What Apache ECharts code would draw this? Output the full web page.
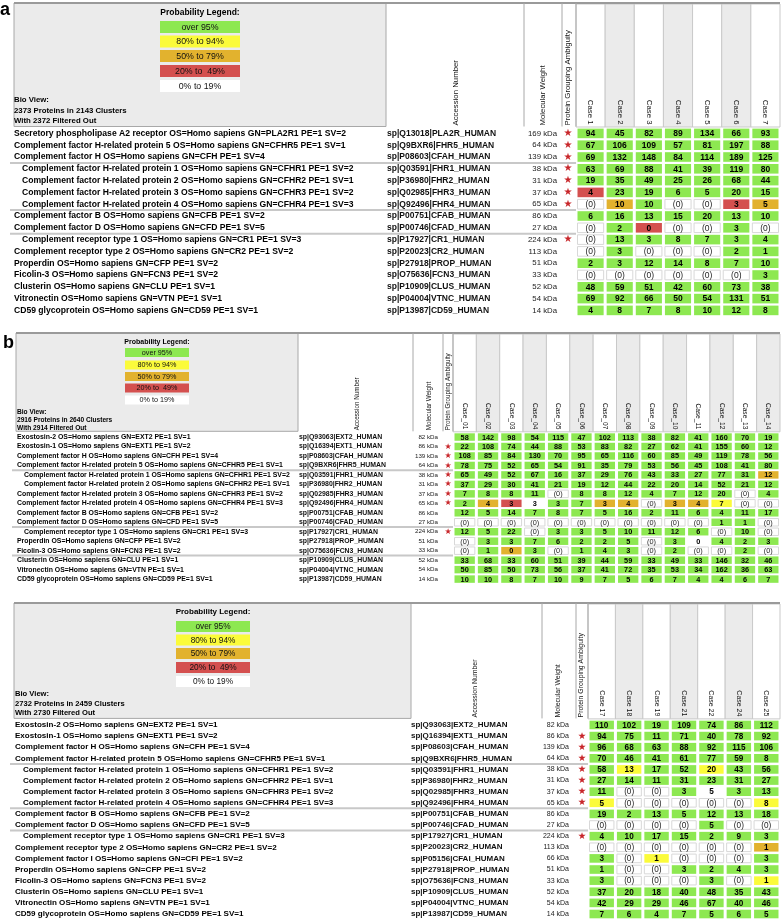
<!DOCTYPE html>
<html>
<head>
<meta charset="utf-8">
<script src="https://cdn.jsdelivr.net/npm/echarts@6.0.0/dist/echarts.min.js"></script>
<style>
html,body{margin:0;padding:0;background:#ffffff;}
#chart{width:782px;height:919px;}
</style>
</head>
<body>
<div id="chart"></div>
<script>
// ================= DATA =================
const legendLabels = ['over 95%', '80% to 94%', '50% to 79%', '20% to  49%', '0% to 19%'];
const legendClasses = ['G', 'Y', 'O', 'R', 'W'];

// ---- panel a ----
const casesA = ['Case 1', 'Case 2', 'Case 3', 'Case 4', 'Case 5', 'Case 6', 'Case 7'];
const proteinsA = [
  'Secretory phospholipase A2 receptor OS=Homo sapiens GN=PLA2R1 PE=1 SV=2',
  'Complement factor H-related protein 5 OS=Homo sapiens GN=CFHR5 PE=1 SV=1',
  'Complement factor H OS=Homo sapiens GN=CFH PE=1 SV=4',
  'Complement factor H-related protein 1 OS=Homo sapiens GN=CFHR1 PE=1 SV=2',
  'Complement factor H-related protein 2 OS=Homo sapiens GN=CFHR2 PE=1 SV=1',
  'Complement factor H-related protein 3 OS=Homo sapiens GN=CFHR3 PE=1 SV=2',
  'Complement factor H-related protein 4 OS=Homo sapiens GN=CFHR4 PE=1 SV=3',
  'Complement factor B OS=Homo sapiens GN=CFB PE=1 SV=2',
  'Complement factor D OS=Homo sapiens GN=CFD PE=1 SV=5',
  'Complement receptor type 1 OS=Homo sapiens GN=CR1 PE=1 SV=3',
  'Complement receptor type 2 OS=Homo sapiens GN=CR2 PE=1 SV=2',
  'Properdin OS=Homo sapiens GN=CFP PE=1 SV=2',
  'Ficolin-3 OS=Homo sapiens GN=FCN3 PE=1 SV=2',
  'Clusterin OS=Homo sapiens GN=CLU PE=1 SV=1',
  'Vitronectin OS=Homo sapiens GN=VTN PE=1 SV=1',
  'CD59 glycoprotein OS=Homo sapiens GN=CD59 PE=1 SV=1'
];
const accessionA = ['sp|Q13018|PLA2R_HUMAN', 'sp|Q9BXR6|FHR5_HUMAN', 'sp|P08603|CFAH_HUMAN', 'sp|Q03591|FHR1_HUMAN',
  'sp|P36980|FHR2_HUMAN', 'sp|Q02985|FHR3_HUMAN', 'sp|Q92496|FHR4_HUMAN', 'sp|P00751|CFAB_HUMAN', 'sp|P00746|CFAD_HUMAN',
  'sp|P17927|CR1_HUMAN', 'sp|P20023|CR2_HUMAN', 'sp|P27918|PROP_HUMAN', 'sp|O75636|FCN3_HUMAN', 'sp|P10909|CLUS_HUMAN',
  'sp|P04004|VTNC_HUMAN', 'sp|P13987|CD59_HUMAN'];
const mwA = ['169 kDa', '64 kDa', '139 kDa', '38 kDa', '31 kDa', '37 kDa', '65 kDa', '86 kDa', '27 kDa', '224 kDa', '113 kDa', '51 kDa', '33 kDa', '52 kDa', '54 kDa', '14 kDa'];
const ambiguityA = [1, 1, 1, 1, 1, 1, 1, 0, 0, 1, 0, 0, 0, 0, 0, 0];
const indentA = [0, 0, 0, 1, 1, 1, 1, 0, 0, 1, 0, 0, 0, 0, 0, 0];
const groupBreaksA = [3, 7, 9];
const countsA = [
  [94, 45, 82, 89, 134, 66, 93],
  [67, 106, 109, 57, 81, 197, 88],
  [69, 132, 148, 84, 114, 189, 125],
  [63, 69, 88, 41, 39, 119, 80],
  [19, 35, 49, 25, 26, 68, 44],
  [4, 23, 19, 6, 5, 20, 15],
  [0, 10, 10, 0, 0, 3, 5],
  [6, 16, 13, 15, 20, 13, 10],
  [0, 2, 0, 0, 0, 3, 0],
  [0, 13, 3, 8, 7, 3, 4],
  [0, 3, 0, 0, 0, 2, 1],
  [2, 3, 12, 14, 8, 7, 10],
  [0, 0, 0, 0, 0, 0, 3],
  [48, 59, 51, 42, 60, 73, 38],
  [69, 92, 66, 50, 54, 131, 51],
  [4, 8, 7, 8, 10, 12, 8]
];
// G >95%, Y 80-94%, O 50-79%, R 20-49%, W 0-19%, N 0-19% shown in brackets
const probA = ['GGGGGGG', 'GGGGGGG', 'GGGGGGG', 'GGGGGGG', 'GGGGGGG', 'RGGGGGG', 'NOGNNRO', 'GGGGGGG',
  'NGRNNGN', 'NGGGGGG', 'NGNNNGG', 'GGGGGGG', 'NNNNNNG', 'GGGGGGG', 'GGGGGGG', 'GGGGGGG'];
const bioViewA = ['Bio View:', '2373 Proteins in 2143 Clusters', 'With 2372 Filtered Out'];

// ---- panel b ----
const casesB = ['Case_01', 'Case_02', 'Case_03', 'Case_04', 'Case_05', 'Case_06', 'Case_07', 'Case_08', 'Case_09', 'Case_10', 'Case_11', 'Case_12', 'Case_13', 'Case_14'];
const proteinsB = [
  'Exostosin-2 OS=Homo sapiens GN=EXT2 PE=1 SV=1',
  'Exostosin-1 OS=Homo sapiens GN=EXT1 PE=1 SV=2',
  'Complement factor H OS=Homo sapiens GN=CFH PE=1 SV=4',
  'Complement factor H-related protein 5 OS=Homo sapiens GN=CFHR5 PE=1 SV=1',
  'Complement factor H-related protein 1 OS=Homo sapiens GN=CFHR1 PE=1 SV=2',
  'Complement factor H-related protein 2 OS=Homo sapiens GN=CFHR2 PE=1 SV=1',
  'Complement factor H-related protein 3 OS=Homo sapiens GN=CFHR3 PE=1 SV=2',
  'Complement factor H-related protein 4 OS=Homo sapiens GN=CFHR4 PE=1 SV=3',
  'Complement factor B OS=Homo sapiens GN=CFB PE=1 SV=2',
  'Complement factor D OS=Homo sapiens GN=CFD PE=1 SV=5',
  'Complement receptor type 1 OS=Homo sapiens GN=CR1 PE=1 SV=3',
  'Properdin OS=Homo sapiens GN=CFP PE=1 SV=2',
  'Ficolin-3 OS=Homo sapiens GN=FCN3 PE=1 SV=2',
  'Clusterin OS=Homo sapiens GN=CLU PE=1 SV=1',
  'Vitronectin OS=Homo sapiens GN=VTN PE=1 SV=1',
  'CD59 glycoprotein OS=Homo sapiens GN=CD59 PE=1 SV=1'
];
const accessionB = ['sp|Q93063|EXT2_HUMAN', 'sp|Q16394|EXT1_HUMAN', 'sp|P08603|CFAH_HUMAN', 'sp|Q9BXR6|FHR5_HUMAN',
  'sp|Q03591|FHR1_HUMAN', 'sp|P36980|FHR2_HUMAN', 'sp|Q02985|FHR3_HUMAN', 'sp|Q92496|FHR4_HUMAN', 'sp|P00751|CFAB_HUMAN',
  'sp|P00746|CFAD_HUMAN', 'sp|P17927|CR1_HUMAN', 'sp|P27918|PROP_HUMAN', 'sp|O75636|FCN3_HUMAN', 'sp|P10909|CLUS_HUMAN',
  'sp|P04004|VTNC_HUMAN', 'sp|P13987|CD59_HUMAN'];
const mwB = ['82 kDa', '86 kDa', '139 kDa', '64 kDa', '38 kDa', '31 kDa', '37 kDa', '65 kDa', '86 kDa', '27 kDa', '224 kDa', '51 kDa', '33 kDa', '52 kDa', '54 kDa', '14 kDa'];
const ambiguityB = [0, 1, 1, 1, 1, 1, 1, 1, 0, 0, 1, 0, 0, 0, 0, 0];
const indentB = [0, 0, 0, 0, 1, 1, 0, 0, 0, 0, 1, 0, 0, 0, 0, 0];
const groupBreaksB = [4, 10, 13];
const countsB = [
  [58, 142, 98, 54, 115, 47, 102, 113, 38, 82, 41, 160, 70, 19],
  [22, 108, 74, 44, 88, 53, 83, 82, 27, 62, 41, 155, 60, 12],
  [108, 85, 84, 130, 70, 95, 65, 116, 60, 85, 49, 119, 78, 56],
  [78, 75, 52, 65, 54, 91, 35, 79, 53, 56, 45, 108, 41, 80],
  [65, 49, 52, 67, 16, 37, 29, 76, 43, 33, 27, 77, 31, 12],
  [37, 29, 30, 41, 21, 19, 12, 44, 22, 20, 14, 52, 21, 12],
  [7, 8, 8, 11, 0, 8, 8, 12, 4, 7, 12, 20, 0, 4],
  [2, 4, 3, 3, 3, 7, 3, 4, 0, 3, 4, 7, 0, 0],
  [12, 5, 14, 7, 8, 7, 5, 16, 2, 11, 6, 4, 11, 17],
  [0, 0, 0, 0, 0, 0, 0, 0, 0, 0, 0, 1, 1, 0],
  [12, 5, 22, 0, 3, 3, 5, 10, 11, 12, 6, 0, 10, 0],
  [0, 3, 3, 7, 6, 2, 2, 5, 0, 3, 0, 4, 2, 3],
  [0, 1, 0, 3, 0, 1, 4, 3, 0, 2, 0, 0, 2, 0],
  [33, 68, 33, 60, 51, 39, 44, 59, 33, 49, 33, 146, 32, 46],
  [50, 85, 50, 73, 56, 37, 41, 72, 35, 53, 34, 162, 36, 63],
  [10, 10, 8, 7, 10, 9, 7, 5, 6, 7, 4, 4, 6, 7]
];
const probB = ['GGGGGGGGGGGGGG', 'GGGGGGGGGGGGGG', 'GGGGGGGGGGGGGG', 'GGGGGGGGGGGGGG', 'GGGGGGGGGGGGGO',
  'GGGGGGGGGGGGGG', 'GGGGNGGGGGGGNG', 'GORWGGOONOOYNN', 'GGGGGGGGGGGGGG', 'NNNNNNNNNNNGGN',
  'GGGNGGGGGGGNGN', 'NGGGGGGGNGWGGG', 'NGOGNGGGNGNNGN', 'GGGGGGGGGGGGGG', 'GGGGGGGGGGGGGG', 'GGGGGGGGGGGGGG'];
const bioViewB = ['Bio View:', '2916 Proteins in 2640 Clusters', 'With 2914 Filtered Out'];

// ---- panel b (continued) ----
const casesC = ['Case 17', 'Case 18', 'Case 19', 'Case 21', 'Case 22', 'Case 24', 'Case 25'];
const proteinsC = [
  'Exostosin-2 OS=Homo sapiens GN=EXT2 PE=1 SV=1',
  'Exostosin-1 OS=Homo sapiens GN=EXT1 PE=1 SV=2',
  'Complement factor H OS=Homo sapiens GN=CFH PE=1 SV=4',
  'Complement factor H-related protein 5 OS=Homo sapiens GN=CFHR5 PE=1 SV=1',
  'Complement factor H-related protein 1 OS=Homo sapiens GN=CFHR1 PE=1 SV=2',
  'Complement factor H-related protein 2 OS=Homo sapiens GN=CFHR2 PE=1 SV=1',
  'Complement factor H-related protein 3 OS=Homo sapiens GN=CFHR3 PE=1 SV=2',
  'Complement factor H-related protein 4 OS=Homo sapiens GN=CFHR4 PE=1 SV=3',
  'Complement factor B OS=Homo sapiens GN=CFB PE=1 SV=2',
  'Complement factor D OS=Homo sapiens GN=CFD PE=1 SV=5',
  'Complement receptor type 1 OS=Homo sapiens GN=CR1 PE=1 SV=3',
  'Complement receptor type 2 OS=Homo sapiens GN=CR2 PE=1 SV=2',
  'Complement factor I OS=Homo sapiens GN=CFI PE=1 SV=2',
  'Properdin OS=Homo sapiens GN=CFP PE=1 SV=2',
  'Ficolin-3 OS=Homo sapiens GN=FCN3 PE=1 SV=2',
  'Clusterin OS=Homo sapiens GN=CLU PE=1 SV=1',
  'Vitronectin OS=Homo sapiens GN=VTN PE=1 SV=1',
  'CD59 glycoprotein OS=Homo sapiens GN=CD59 PE=1 SV=1'
];
const accessionC = ['sp|Q93063|EXT2_HUMAN', 'sp|Q16394|EXT1_HUMAN', 'sp|P08603|CFAH_HUMAN', 'sp|Q9BXR6|FHR5_HUMAN',
  'sp|Q03591|FHR1_HUMAN', 'sp|P36980|FHR2_HUMAN', 'sp|Q02985|FHR3_HUMAN', 'sp|Q92496|FHR4_HUMAN', 'sp|P00751|CFAB_HUMAN',
  'sp|P00746|CFAD_HUMAN', 'sp|P17927|CR1_HUMAN', 'sp|P20023|CR2_HUMAN', 'sp|P05156|CFAI_HUMAN', 'sp|P27918|PROP_HUMAN',
  'sp|O75636|FCN3_HUMAN', 'sp|P10909|CLUS_HUMAN', 'sp|P04004|VTNC_HUMAN', 'sp|P13987|CD59_HUMAN'];
const mwC = ['82 kDa', '86 kDa', '139 kDa', '64 kDa', '38 kDa', '31 kDa', '37 kDa', '65 kDa', '86 kDa', '27 kDa', '224 kDa', '113 kDa', '66 kDa', '51 kDa', '33 kDa', '52 kDa', '54 kDa', '14 kDa'];
const ambiguityC = [0, 1, 1, 1, 1, 1, 1, 1, 0, 0, 1, 0, 0, 0, 0, 0, 0, 0];
const indentC = [0, 0, 0, 0, 1, 1, 1, 1, 0, 0, 1, 0, 0, 0, 0, 0, 0, 0];
const groupBreaksC = [4, 8, 10];
const countsC = [
  [110, 102, 19, 109, 74, 86, 112],
  [94, 75, 11, 71, 40, 78, 92],
  [96, 68, 63, 88, 92, 115, 106],
  [70, 46, 41, 61, 77, 59, 8],
  [58, 13, 17, 52, 20, 43, 56],
  [27, 14, 11, 31, 23, 31, 27],
  [11, 0, 0, 3, 5, 3, 13],
  [5, 0, 0, 0, 0, 0, 8],
  [19, 2, 13, 5, 12, 13, 18],
  [0, 0, 0, 0, 5, 0, 0],
  [4, 10, 17, 15, 2, 9, 3],
  [0, 0, 0, 0, 0, 0, 1],
  [3, 0, 1, 0, 0, 0, 3],
  [1, 0, 0, 3, 2, 4, 3],
  [3, 0, 0, 0, 3, 0, 1],
  [37, 20, 18, 40, 48, 35, 43],
  [42, 29, 29, 46, 67, 40, 46],
  [7, 6, 4, 7, 5, 6, 5]
];
const probC = ['GGGGGGG', 'GGGGGGG', 'GGGGGGG', 'GGGGGGG', 'GYGGYGG', 'GGGGGGG', 'GNNGWGG', 'YNNNNNY', 'GGGGGGG',
  'NNNNGNN', 'GGGGGGG', 'NNNNNNO', 'GNYNNNG', 'GNNGGGG', 'GNNNGNY', 'GGGGGGG', 'GGGGGGG', 'GGGGGGG'];
const bioViewC = ['Bio View:', '2732 Proteins in 2459 Clusters', 'With 2730 Filtered Out'];

const headerTexts = ['Accession Number', 'Molecular Weight', 'Protein Grouping Ambiguity'];

// ================= STYLE / LAYOUT =================
const FONT = '"Liberation Sans", Arial, sans-serif';
const CLS_FILL = { G: '#8de851', Y: '#fbfb3a', O: '#e2b22e', R: '#d4504f', W: '#ffffff', N: '#ffffff' };
const HEAD_GRAY = '#ebebeb';

const layoutA = {
  label: 'a', labelX: 0, labelY: 10, top: 3, gridTop: 127.5, band: 11.8, left: 14, nameX: 14, indent: 8,
  boxRight: 386, vlines: [524, 562, 576], accX: 387, mwRight: 557, starX: 568, caseLeft: 576, caseRight: 780,
  legX: 160, legW: 80, legH: 12, legTitleY: 13, legY: [21, 35.5, 50, 65, 80], bioY: [100, 111, 121],
  hdrX: [456, 543, 568],
  f: { name: 8.6, acc: 8.5, mw: 7.8, cell: 8.5, head: 7.8, hdr: 7.8, leg: 8.8, legTitle: 8.5, bio: 7.8, star: 10 },
  pad: [3, 2.2]
};
const layoutB = {
  label: 'b', labelX: 3, labelY: 343, top: 333, gridTop: 432.3, band: 9.47, left: 16, nameX: 17, indent: 7,
  boxRight: 298, vlines: [413, 443, 453], accX: 299, mwRight: 438, starX: 448, caseLeft: 453, caseRight: 780,
  legX: 125, legW: 64, legH: 9, legTitleY: 342, legY: [348, 360.5, 372, 383.5, 395.5], bioY: [412, 420, 428],
  hdrX: [357, 429, 448],
  f: { name: 6.9, acc: 6.9, mw: 6.2, cell: 7.3, head: 6.6, hdr: 6.3, leg: 7.2, legTitle: 7, bio: 6.6, star: 8 },
  pad: [3, 2]
};
const layoutC = {
  label: '', labelX: 0, labelY: 0, top: 603, gridTop: 719.4, band: 11.12, left: 14, nameX: 15, indent: 8,
  boxRight: 411, vlines: [542, 576, 588], accX: 411, mwRight: 569, starX: 582, caseLeft: 588, caseRight: 780,
  legX: 176, legW: 74, legH: 11, legTitleY: 612, legY: [621, 634.5, 648, 662, 676], bioY: [694, 704, 713],
  hdrX: [475, 558, 581],
  f: { name: 8.05, acc: 8, mw: 7, cell: 8.2, head: 7, hdr: 6.9, leg: 8.3, legTitle: 8, bio: 7.6, star: 9.5 },
  pad: [3, 2.5]
};

const panels = [
  { cases: casesA, names: proteinsA, acc: accessionA, mw: mwA, amb: ambiguityA, ind: indentA, breaks: groupBreaksA, counts: countsA, prob: probA, bio: bioViewA, L: layoutA },
  { cases: casesB, names: proteinsB, acc: accessionB, mw: mwB, amb: ambiguityB, ind: indentB, breaks: groupBreaksB, counts: countsB, prob: probB, bio: bioViewB, L: layoutB },
  { cases: casesC, names: proteinsC, acc: accessionC, mw: mwC, amb: ambiguityC, ind: indentC, breaks: groupBreaksC, counts: countsC, prob: probC, bio: bioViewC, L: layoutC }
];

// ================= BUILD =================
const grids = [], xAxes = [], yAxes = [], series = [], graphics = [];

function txt(x, y, text, size, opts) {
  opts = opts || {};
  return {
    type: 'text', x: x, y: y, rotation: opts.rotation || 0, z: 20, silent: true,
    style: {
      text: text, fill: opts.color || '#000', fontSize: size, fontWeight: opts.bold ? 'bold' : 'normal',
      fontFamily: FONT, align: opts.align || 'left', verticalAlign: 'middle'
    }
  };
}

panels.forEach(function (P, gi) {
  const L = P.L;
  const n = P.names.length;
  grids.push({ left: L.caseLeft, top: L.gridTop, width: L.caseRight - L.caseLeft, height: L.band * n, containLabel: false, outerBoundsMode: 'none' });

  xAxes.push({
    type: 'category', gridIndex: gi, data: P.cases, position: 'top', z: 10,
    axisLine: { show: false }, axisTick: { show: false }, splitLine: { show: false },
    axisLabel: { interval: 0, rotate: 90, margin: 3, fontSize: L.f.head, fontFamily: FONT, color: '#111' }
  });

  const yBase = { type: 'category', gridIndex: gi, data: P.names, inverse: true, z: 10, position: 'left', offset: 0,
    axisLine: { show: false }, axisTick: { show: false }, splitLine: { show: false } };
  const yi = yAxes.length;
  // protein names
  yAxes.push(Object.assign({}, yBase, {
    axisLabel: {
      interval: 0, align: 'left', margin: L.caseLeft - L.nameX,
      formatter: function (v, i) { return (P.ind[i] ? '{i|' : '{n|') + v + '}'; },
      rich: {
        n: { fontSize: L.f.name, fontWeight: 'bold', fontFamily: FONT, color: '#000' },
        i: { fontSize: L.f.name, fontWeight: 'bold', fontFamily: FONT, color: '#000', padding: [0, 0, 0, L.indent] }
      }
    }
  }));
  // accession
  yAxes.push(Object.assign({}, yBase, {
    axisLabel: { interval: 0, align: 'left', margin: L.caseLeft - L.accX, fontSize: L.f.acc, fontWeight: 'bold', fontFamily: FONT, color: '#111',
      formatter: function (v, i) { return P.acc[i]; } }
  }));
  // molecular weight
  yAxes.push(Object.assign({}, yBase, {
    axisLabel: { interval: 0, align: 'right', margin: L.caseLeft - L.mwRight, fontSize: L.f.mw, fontFamily: FONT, color: '#222',
      formatter: function (v, i) { return P.mw[i]; } }
  }));
  // ambiguity star
  yAxes.push(Object.assign({}, yBase, {
    axisLabel: { interval: 0, align: 'center', margin: L.caseLeft - L.starX, fontSize: L.f.star, fontFamily: '"DejaVu Sans", sans-serif', color: '#c8262a',
      formatter: function (v, i) { return P.amb[i] ? '\u2605' : ''; } }
  }));

  // header columns (alternating shading) tied to case axis
  series.push({
    type: 'custom', xAxisIndex: gi, yAxisIndex: yi, clip: false, silent: true, z: 1,
    data: P.cases.map(function (c, i) { return [i, 0]; }),
    renderItem: function (params, api) {
      const pt = api.coord([api.value(0), 0]);
      const w = api.size([1, 0])[0];
      const cs = params.coordSys;
      return {
        type: 'rect',
        shape: { x: pt[0] - w / 2, y: L.top + 1, width: w, height: cs.y - L.top - 1.5 },
        style: { fill: params.dataIndex % 2 ? HEAD_GRAY : '#ffffff', stroke: '#c9c9c9', lineWidth: 1 }
      };
    }
  });

  // group separators
  series.push({
    type: 'custom', xAxisIndex: gi, yAxisIndex: yi, clip: false, silent: true, z: 1,
    data: P.breaks.map(function (b) { return [0, b]; }),
    renderItem: function (params, api) {
      const pt = api.coord([0, api.value(1)]);
      const h = api.size([0, 1])[1];
      const y = pt[1] - h / 2;
      return { type: 'line', shape: { x1: L.left - 4, y1: y, x2: L.caseLeft, y2: y }, style: { stroke: '#c8c8c8', lineWidth: 2 } };
    }
  });

  // cells
  const cells = [];
  P.counts.forEach(function (row, r) {
    row.forEach(function (v, c) { cells.push({ x: c, y: r, v: v, cls: P.prob[r].charAt(c) }); });
  });
  series.push({
    type: 'custom', xAxisIndex: gi, yAxisIndex: yi, clip: false, silent: true, z: 5,
    data: cells.map(function (c) { return [c.x, c.y, c.v]; }),
    renderItem: function (params, api) {
      const cell = cells[params.dataIndex];
      const pt = api.coord([api.value(0), api.value(1)]);
      const sz = api.size([1, 1]);
      const w = sz[0] - L.pad[0], h = sz[1] - L.pad[1];
      const isN = cell.cls === 'N';
      const label = isN ? '(' + api.value(2) + ')' : String(api.value(2));
      return {
        type: 'group',
        children: [
          { type: 'rect', shape: { x: pt[0] - w / 2, y: pt[1] - h / 2, width: w, height: h },
            style: { fill: CLS_FILL[cell.cls], stroke: isN ? '#d8d8d8' : null, lineWidth: 1 } },
          { type: 'text', x: pt[0], y: pt[1] + 0.5,
            style: { text: label, fill: isN ? '#222' : '#000', fontSize: L.f.cell, fontWeight: isN ? 'normal' : 'bold', fontFamily: FONT, align: 'center', verticalAlign: 'middle' } }
        ]
      };
    }
  });

  // ---- header decorations ----
  const hb = L.gridTop - 1;
  graphics.push({ type: 'rect', z: 0, silent: true, shape: { x: L.left, y: L.top, width: L.boxRight - L.left, height: hb - L.top },
    style: { fill: HEAD_GRAY, stroke: '#a8a8a8', lineWidth: 1 } });
  graphics.push({ type: 'line', z: 2, silent: true, shape: { x1: L.left, y1: L.top, x2: L.caseRight, y2: L.top }, style: { stroke: '#9a9a9a', lineWidth: 2 } });
  L.vlines.forEach(function (x) {
    graphics.push({ type: 'line', z: 2, silent: true, shape: { x1: x, y1: L.top, x2: x, y2: hb }, style: { stroke: '#a8a8a8', lineWidth: 1 } });
  });
  if (L.label) graphics.push(txt(L.labelX, L.labelY, L.label, 18, { bold: true }));
  // legend
  graphics.push(txt(L.legX + L.legW / 2, L.legTitleY, 'Probability Legend:', L.f.legTitle, { bold: true, align: 'center' }));
  legendLabels.forEach(function (lab, i) {
    graphics.push({ type: 'rect', z: 3, silent: true, shape: { x: L.legX, y: L.legY[i], width: L.legW, height: L.legH },
      style: { fill: CLS_FILL[legendClasses[i]] } });
    graphics.push(txt(L.legX + L.legW / 2, L.legY[i] + L.legH / 2 + 0.5, lab, L.f.leg, { align: 'center', color: '#111' }));
  });
  // bio view
  P.bio.forEach(function (line, i) { graphics.push(txt(L.nameX, L.bioY[i], line, L.f.bio, { bold: true })); });
  // rotated column headers
  headerTexts.forEach(function (t, i) {
    graphics.push(txt(L.hdrX[i], hb - 1, t, L.f.hdr, { rotation: Math.PI / 2, color: '#111' }));
  });
});

const chart = echarts.init(document.getElementById('chart'), null, { renderer: 'canvas' });
chart.setOption({
  animation: false,
  backgroundColor: '#ffffff',
  grid: grids,
  xAxis: xAxes,
  yAxis: yAxes,
  series: series,
  graphic: { elements: graphics }
});
</script>
</body>
</html>
